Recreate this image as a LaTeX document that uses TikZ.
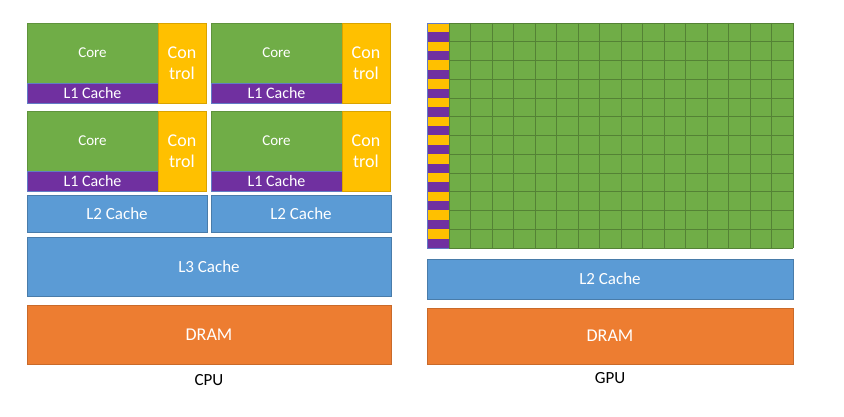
\documentclass[tikz,border=0pt]{standalone}
\usepackage{fontspec}
\setmainfont{Carlito}
\definecolor{coregreen}{HTML}{70AD47}
\definecolor{lonepurple}{HTML}{7030A0}
\definecolor{ctrlyellow}{HTML}{FFC000}
\definecolor{cacheblue}{HTML}{5B9BD5}
\definecolor{dramorange}{HTML}{ED7D31}
\tikzset{
  blk/.style={rectangle, anchor=north west, inner sep=0pt, outer sep=0pt,
    text=white, line width=0.6pt},
  corebox/.style={blk, fill=coregreen, draw=coregreen!85!black,
    font=\fontsize{15}{18}\selectfont},
  lonebox/.style={blk, fill=lonepurple, draw=cacheblue!70!lonepurple,
    font=\fontsize{16}{19}\selectfont},
  ctrlbox/.style={blk, fill=ctrlyellow, draw=ctrlyellow!85!black, align=center,
    font=\fontsize{18}{21}\selectfont},
  cachebox/.style={blk, fill=cacheblue, draw=cacheblue!80!black,
    font=\fontsize{17}{20}\selectfont},
  drambox/.style={blk, fill=dramorange, draw=dramorange!85!black,
    font=\fontsize{18}{21}\selectfont},
  gridline/.style={draw=coregreen!75!black, line width=0.7pt},
  caption/.style={font=\fontsize{17}{20}\selectfont, text=black}
}
\begin{document}
\begin{tikzpicture}[x=1pt, y=-1pt]
  \useasboundingbox (0,0) rectangle (844,417);
  % CPU cores
  \foreach \i/\dx/\dy in {1/0/0, 2/184/0, 3/0/88, 4/184/88} {
    \node[corebox, minimum width=131, minimum height=60] (core\i) at (27+\dx,23+\dy) {Core};
    \node[lonebox, minimum width=131, minimum height=20] (lone\i) at (27+\dx,83+\dy) {L1 Cache};
    \node[ctrlbox, minimum width=48, minimum height=80] (ctrl\i) at (158+\dx,23+\dy) {Con\\trol};
  }
  % CPU caches and memory
  \node[cachebox, minimum width=180, minimum height=37] (ltwoa) at (27,195) {L2 Cache};
  \node[cachebox, minimum width=180, minimum height=37] (ltwob) at (211,195) {L2 Cache};
  \node[cachebox, minimum width=364, minimum height=59] (lthree) at (27,237) {L3 Cache};
  \node[drambox, minimum width=364, minimum height=59] (cpudram) at (27,305) {DRAM};
  \node[caption] (cpu) at (209,380) {CPU};
  % GPU grid
  \fill[coregreen] (427,23) rectangle (793,248);
  \foreach \r in {0,...,11} {
    \fill[ctrlyellow] (427,{23+\r*18.75}) rectangle ++(22,9.375);
    \fill[lonepurple] (427,{32.375+\r*18.75}) rectangle ++(22,9.375);
  }
  \draw[cacheblue!70!lonepurple, line width=0.6pt] (427,23) rectangle (449,248);
  \foreach \c in {0,...,16}
    \draw[gridline] ({449+\c*21.5},23) -- ++(0,225);
  \foreach \r in {0,...,12}
    \draw[gridline] (449,{23+\r*18.75}) -- (793,{23+\r*18.75});
  % GPU caches and memory
  \node[cachebox, minimum width=366, minimum height=40] (gpultwo) at (427,259) {L2 Cache};
  \node[drambox, minimum width=366, minimum height=56] (gpudram) at (427,308) {DRAM};
  \node[caption] (gpu) at (610,378) {GPU};
\end{tikzpicture}
\end{document}
